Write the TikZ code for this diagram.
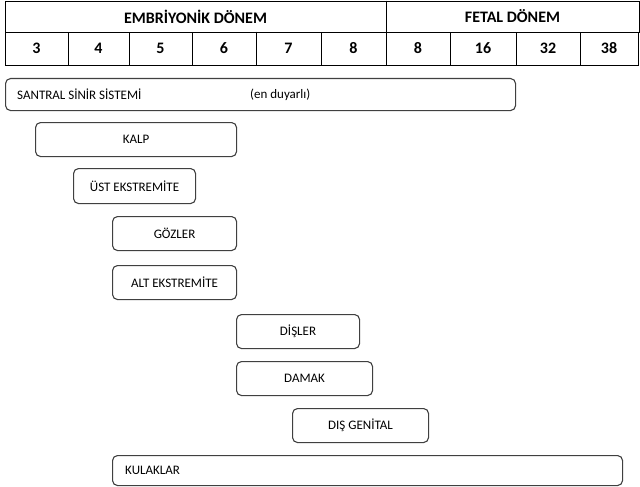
\documentclass[tikz,border=0pt]{standalone}
\usepackage{fontspec}
\setmainfont{Carlito}
\usetikzlibrary{positioning}
\tikzset{
  cell/.style={draw, line width=0.9pt, inner sep=0pt, font=\bfseries\fontsize{16}{18}\selectfont},
  organ/.style={draw=black!75, line width=1.1pt, rounded corners=5pt, anchor=north west, inner sep=0pt, font=\fontsize{13}{15}\selectfont},
  lbl/.style={inner sep=0pt, anchor=west, font=\fontsize{13}{15}\selectfont}
}
\begin{document}
\begin{tikzpicture}[x=1pt, y=-1pt]
    \useasboundingbox (0,0) rectangle (640,487);
    % table header
    \node[cell, minimum width=381pt, minimum height=31pt] (emb) at (195.5,16.5) {EMBRİYONİK DÖNEM};
    \node[cell, minimum width=253pt, minimum height=31pt] (fet) at (512.5,16.5) {FETAL DÖNEM};
    \node[cell, minimum width=63pt, minimum height=33pt] (w3) at (36.5,48.5) {3};
    \node[cell, minimum width=61pt, minimum height=33pt] (w4) at (98.5,48.5) {4};
    \node[cell, minimum width=63pt, minimum height=33pt] (w5) at (160.5,48.5) {5};
    \node[cell, minimum width=64pt, minimum height=33pt] (w6) at (224,48.5) {6};
    \node[cell, minimum width=65pt, minimum height=33pt] (w7) at (288.5,48.5) {7};
    \node[cell, minimum width=65pt, minimum height=33pt] (w8) at (353.5,48.5) {8};
    \node[cell, minimum width=64pt, minimum height=33pt] (f8) at (418,48.5) {8};
    \node[cell, minimum width=66pt, minimum height=33pt] (f16) at (483,48.5) {16};
    \node[cell, minimum width=64pt, minimum height=33pt] (f32) at (548,48.5) {32};
    \node[cell, minimum width=58pt, minimum height=33pt] (f38) at (609,48.5) {38};
    \draw[line width=1.8pt] (w6.north east) -- (w6.south east);
    \draw[line width=1.8pt] (emb.north east) -- (w8.south east);
    % organ boxes
    \node[organ, minimum width=510pt, minimum height=32pt] (ssm) at (5,78) {};
    \node[lbl, right=12pt of ssm.west] (ssmt) {SANTRAL SİNİR SİSTEMİ};
    \node[lbl, right=245pt of ssm.west] (ssmn) {(en duyarlı)};
    \node[organ, minimum width=201pt, minimum height=34pt] (kalp) at (35,122) {KALP};
    \node[organ, minimum width=122pt, minimum height=35pt] (ust) at (73,168) {ÜST EKSTREMİTE};
    \node[organ, minimum width=124pt, minimum height=34pt] (goz) at (112,216) {GÖZLER};
    \node[organ, minimum width=124pt, minimum height=34pt] (alt) at (112,265) {ALT EKSTREMİTE};
    \node[organ, minimum width=123pt, minimum height=34pt] (dis) at (236,314) {DİŞLER};
    \node[organ, minimum width=136pt, minimum height=34pt] (dam) at (236,361) {DAMAK};
    \node[organ, minimum width=136pt, minimum height=34pt] (gen) at (292,408) {DIŞ GENİTAL};
    \node[organ, minimum width=510pt, minimum height=30pt] (kul) at (112,455) {};
    \node[lbl, right=13pt of kul.west] (kult) {KULAKLAR};
\end{tikzpicture}
\end{document}
